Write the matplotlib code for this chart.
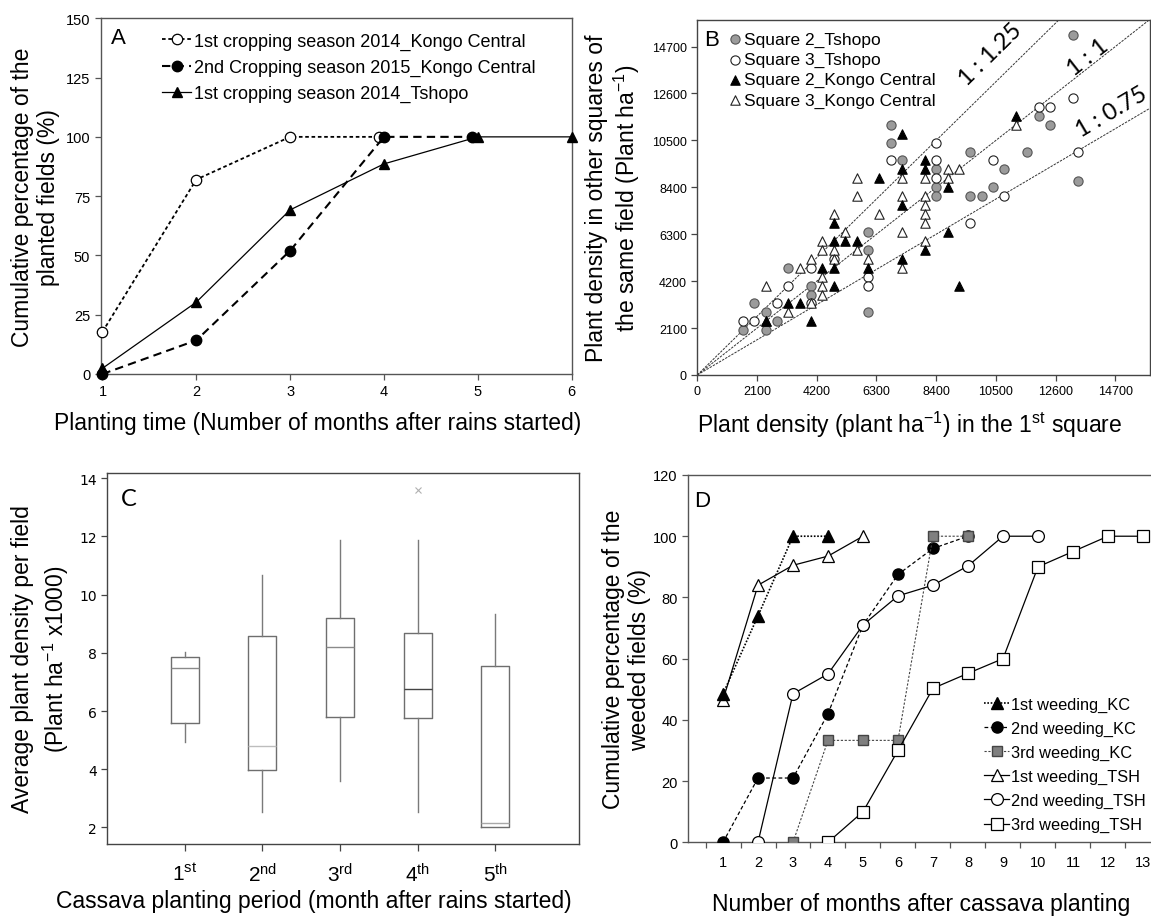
import numpy as np
import matplotlib
matplotlib.use('Agg')
import matplotlib.pyplot as plt

plt.rcParams['font.family'] = ['Liberation Sans', 'DejaVu Sans']
plt.rcParams['mathtext.fontset'] = 'custom'
plt.rcParams['mathtext.rm'] = 'Liberation Sans'
plt.rcParams['mathtext.it'] = 'Liberation Sans'
plt.rcParams['mathtext.bf'] = 'Liberation Sans:bold'
plt.rcParams['axes.unicode_minus'] = False

W, H = 1151, 920

# -----------------------
# Panel A: cumulative planting
# -----------------------
a_kc2014_x = [1, 2, 3, 3.95]
a_kc2014_y = [17.8, 82, 100, 100]
a_kc2015_x = [1, 2, 3, 4, 4.94]
a_kc2015_y = [0, 14.2, 52, 100, 100]
a_tsh_x = [1, 2, 3, 4, 5, 6]
a_tsh_y = [2.4, 30.3, 69.2, 88.6, 100, 100]

# -----------------------
# Panel B: plant density in squares (x = 1st square, y = other square)
# -----------------------
b_sq2_tsh_x = [13200, 6800, 6800, 7200, 8400, 8400, 8400, 9600, 9600, 10000, 10400, 10800,
               11600, 12000, 12400, 13400, 6000, 6000, 6000, 4000, 4000, 3200, 2000, 2400,
               2400, 1600, 2800]
b_sq2_tsh_y = [15200, 11200, 10400, 9600, 9200, 8400, 8000, 10000, 8000, 8000, 8400, 9200,
               10000, 11600, 11200, 8700, 6400, 5600, 2800, 4000, 3600, 4800, 3200, 2800,
               2000, 2000, 2400]
b_sq3_tsh_x = [1600, 2000, 2800, 3200, 4000, 4000, 4800, 6000, 6000, 6800, 8400, 8400,
               8400, 9600, 10400, 10800, 12000, 12400, 13200, 13400]
b_sq3_tsh_y = [2400, 2400, 3200, 4000, 4800, 3200, 5200, 4400, 4000, 9600, 10400, 9600,
               8800, 6800, 9600, 8000, 12000, 12000, 12400, 10000]
b_sq2_kc_x = [11200, 7200, 7200, 8000, 8000, 6400, 8800, 7200, 4800, 4800, 5200, 5600,
              8800, 4400, 4800, 4800, 6000, 7200, 8000, 9200, 3200, 3600, 4000, 2400]
b_sq2_kc_y = [11600, 10800, 9200, 9600, 9200, 8800, 8400, 7600, 6800, 6000, 6000, 6000,
              6400, 4800, 4800, 4000, 4800, 5200, 5600, 4000, 3200, 3200, 2400, 2400]
b_sq3_kc_x = [11200, 9200, 8800, 8800, 8000, 7200, 5600, 5600, 7200, 8000, 8000, 8000,
              8000, 8000, 7200, 6400, 7200, 6000, 5200, 5600, 4800, 4400, 4400, 4800,
              4800, 4000, 3600, 4400, 4400, 4400, 4000, 3200, 2400, 2400]
b_sq3_kc_y = [11200, 9200, 9200, 8800, 8800, 8800, 8800, 8000, 8000, 8000, 7600, 7200,
              6800, 6000, 6400, 7200, 4800, 5200, 6400, 5600, 7200, 6000, 5600, 5600,
              5200, 5200, 4800, 4400, 4000, 3600, 3200, 2800, 4000, 2400]
b_ticks = [0, 2100, 4200, 6300, 8400, 10500, 12600, 14700]
b_ratios = [1.25, 1.0, 0.75]
b_ratio_labels = ['1 : 1.25', '1 : 1', '1 : 0.75']

# -----------------------
# Panel C: box plots of plant density per planting period
# -----------------------
c_labels = ['1$^{st}$', '2$^{nd}$', '3$^{rd}$', '4$^{th}$', '5$^{th}$']
c_whislo = [4.95, 2.54, 3.60, 2.54, 2.00]
c_q1 = [5.58, 3.97, 5.80, 5.75, 2.03]
c_med = [7.47, 4.81, 8.19, 6.74, 2.14]
c_q3 = [7.87, 8.59, 9.20, 8.67, 7.54]
c_whishi = [8.02, 10.69, 11.88, 11.88, 9.34]
c_fliers = [[], [], [], [13.61], []]

# -----------------------
# Panel D: cumulative weeding
# -----------------------
d_w1_kc_x = [1, 2, 3, 4]
d_w1_kc_y = [48.5, 74, 100, 100]
d_w2_kc_x = [1, 2, 3, 4, 5, 6, 7, 8]
d_w2_kc_y = [0, 21, 21, 42, 71, 87.5, 96, 100]
d_w3_kc_x = [3, 4, 5, 6, 7, 8]
d_w3_kc_y = [0, 33.3, 33.3, 33.3, 100, 100]
d_w1_tsh_x = [1, 2, 3, 4, 5]
d_w1_tsh_y = [46.5, 84, 90.5, 93.5, 100]
d_w2_tsh_x = [2, 3, 4, 5, 6, 7, 8, 9, 10]
d_w2_tsh_y = [0, 48.5, 55, 71, 80.5, 84, 90.3, 100, 100]
d_w3_tsh_x = [4, 5, 6, 7, 8, 9, 10, 11, 12, 13]
d_w3_tsh_y = [0, 10, 30, 50.3, 55.2, 60, 90, 95, 100, 100]


def px_axes(fig, l, t, r, b):
    return fig.add_axes([l / W, 1 - b / H, (r - l) / W, (b - t) / H])


def style_box(ax, color='#555555'):
    for s in ax.spines.values():
        s.set_color(color)
        s.set_linewidth(1.0)
    ax.tick_params(direction='out', length=4, width=0.9, color=color)


fig = plt.figure(figsize=(W / 100, H / 100), dpi=100)

# ---------- A ----------
axA = px_axes(fig, 100.6, 19.3, 571.6, 375)
axA.plot(a_kc2014_x, a_kc2014_y, ls=(0, (2, 1.5)), lw=1.3, color='k', marker='o', ms=7.5,
         mfc='white', mec='k', mew=0.9, label='1st cropping season 2014_Kongo Central', clip_on=False, zorder=3)
axA.plot(a_kc2015_x, a_kc2015_y, ls=(0, (4, 2.5)), lw=1.5, color='k', marker='o', ms=7.5,
         mfc='k', mec='k', label='2nd Cropping season 2015_Kongo Central', clip_on=False, zorder=4)
axA.plot(a_tsh_x, a_tsh_y, ls='-', lw=0.9, color='k', marker='^', ms=7.5,
         mfc='k', mec='k', label='1st cropping season 2014_Tshopo', clip_on=False, zorder=3)
axA.set_xlim(0.98, 6.0)
axA.set_ylim(0, 150)
axA.set_xticks([1, 2, 3, 4, 5, 6])
axA.set_yticks([0, 25, 50, 75, 100, 125, 150])
style_box(axA)
axA.tick_params(labelsize=10.5)
axA.set_ylabel('Cumulative percentage of the\nplanted fields (%)', fontsize=16.5, linespacing=1.15)
axA.yaxis.set_label_coords(-0.086, 0.5)
axA.set_xlabel('Planting time (Number of months after rains started)', fontsize=16.5)
axA.xaxis.set_label_coords(0.46, -0.105)
axA.text(0.022, 0.945, 'A', transform=axA.transAxes, fontsize=16, va='center', ha='left')
axA.legend(loc='upper left', bbox_to_anchor=(0.1, 1.0), frameon=False, fontsize=13,
           handlelength=1.6, handletextpad=0.15, labelspacing=0.5, borderaxespad=0.4)

# ---------- B ----------
axB = px_axes(fig, 697.3, 20.7, 1149.5, 376)
lim = 15900
xx = np.array([0, lim])
for r in b_ratios:
    axB.plot(xx, xx * r, ls=(0, (2.5, 1.2)), lw=0.7, color='#333333', zorder=1)
axB.scatter(b_sq2_tsh_x, b_sq2_tsh_y, s=44, marker='o', facecolor='#9b9b9b', edgecolor='#555555',
            linewidth=0.8, label='Square 2_Tshopo', zorder=3)
axB.scatter(b_sq3_tsh_x, b_sq3_tsh_y, s=44, marker='o', facecolor='white', edgecolor='#222222',
            linewidth=0.8, label='Square 3_Tshopo', zorder=3)
axB.scatter(b_sq2_kc_x, b_sq2_kc_y, s=46, marker='^', facecolor='black', edgecolor='black',
            linewidth=0.8, label='Square 2_Kongo Central', zorder=4)
axB.scatter(b_sq3_kc_x, b_sq3_kc_y, s=46, marker='^', facecolor='white', edgecolor='#222222',
            linewidth=0.8, label='Square 3_Kongo Central', zorder=3)
axB.set_xlim(0, lim)
axB.set_ylim(0, lim)
axB.set_xticks(b_ticks)
axB.set_yticks(b_ticks)
style_box(axB, '#444444')
axB.tick_params(labelsize=9)
lab_pos = [(10300, 14350), (13750, 14250), (14550, 11800)]
for (lx, ly), r, t in zip(lab_pos, b_ratios, b_ratio_labels):
    axB.text(lx, ly, t, rotation=np.degrees(np.arctan(r)), transform_rotates_text=True,
             rotation_mode='anchor', ha='center', va='center', fontsize=17, family='Lato')
axB.set_ylabel('Plant density in other squares of\nthe same field (Plant ha$^{-1}$)', fontsize=16.5,
               linespacing=1.15)
axB.yaxis.set_label_coords(-0.122, 0.5)
axB.set_xlabel('Plant density (plant ha$^{-1}$) in the 1$^{st}$ square', fontsize=16.5)
axB.xaxis.set_label_coords(0.47, -0.095)
axB.text(0.016, 0.945, 'B', transform=axB.transAxes, fontsize=16, va='center', ha='left')
axB.legend(loc='upper left', bbox_to_anchor=(0.045, 1.0), frameon=False, fontsize=12.5,
           handlelength=0.6, handletextpad=0.2, labelspacing=0.28, borderaxespad=0.3,
           scatterpoints=1)

# ---------- C ----------
axC = px_axes(fig, 107.3, 474, 579, 845)
stats = []
for i in range(len(c_labels)):
    stats.append(dict(whislo=c_whislo[i], q1=c_q1[i], med=c_med[i], q3=c_q3[i],
                      whishi=c_whishi[i], fliers=c_fliers[i]))
med_colors = ['#8a8a8a', '#bdbdbd', '#8a8a8a', '#444444', '#a8a8a8']
bp = axC.bxp(stats, positions=[1, 2, 3, 4, 5], widths=0.36, showcaps=False, patch_artist=False,
             boxprops=dict(color='#6e6e6e', lw=1.0),
             whiskerprops=dict(color='#7a7a7a', lw=1.0),
             medianprops=dict(color='#888888', lw=1.0),
             flierprops=dict(marker='x', markeredgecolor='#b0b0b0', markersize=4.5, mew=0.8))
for m, c in zip(bp['medians'], med_colors):
    m.set_color(c)
axC.set_xlim(0, 6.08)
axC.set_ylim(1.43, 14.18)
axC.set_yticks([2, 4, 6, 8, 10, 12, 14])
axC.set_xticks([1, 2, 3, 4, 5])
axC.set_xticklabels(c_labels, fontsize=15)
for lbl in axC.get_yticklabels():
    lbl.set_family('DejaVu Sans')
    lbl.set_fontsize(10)
style_box(axC, '#444444')
axC.tick_params(axis='x', length=5, pad=8)
axC.set_ylabel('Average plant density per field\n(Plant ha$^{-1}$ x1000)', fontsize=16.5, linespacing=1.3)
axC.yaxis.set_label_coords(-0.077, 0.5)
axC.set_xlabel('Cassava planting period (month after rains started)', fontsize=16.5)
axC.xaxis.set_label_coords(0.438, -0.12)
axC.text(0.028, 0.93, 'C', transform=axC.transAxes, fontsize=17, va='center', ha='left',
         family='Lato')

# ---------- D ----------
axD = px_axes(fig, 688, 476, 1178, 843.3)
axD.plot(d_w1_kc_x, d_w1_kc_y, ls=(0, (1, 1)), lw=1.2, color='k', marker='^', ms=8,
         mfc='k', mec='k', label='1st weeding_KC', zorder=4)
axD.plot(d_w2_kc_x, d_w2_kc_y, ls=(0, (3, 2)), lw=0.9, color='k', marker='o', ms=8,
         mfc='k', mec='k', label='2nd weeding_KC', zorder=3)
axD.plot(d_w3_kc_x, d_w3_kc_y, ls=(0, (2, 1.5)), lw=0.8, color='#444444', marker='s', ms=7.5,
         mfc='#7f7f7f', mec='#444444', label='3rd weeding_KC', zorder=3)
axD.plot(d_w1_tsh_x, d_w1_tsh_y, ls='-', lw=0.9, color='k', marker='^', ms=8.5,
         mfc='white', mec='k', mew=0.9, label='1st weeding_TSH', zorder=3)
axD.plot(d_w2_tsh_x, d_w2_tsh_y, ls='-', lw=0.9, color='k', marker='o', ms=8.5,
         mfc='white', mec='k', mew=0.9, label='2nd weeding_TSH', zorder=4)
axD.plot(d_w3_tsh_x, d_w3_tsh_y, ls='-', lw=0.9, color='k', marker='s', ms=8,
         mfc='white', mec='k', mew=0.9, label='3rd weeding_TSH', zorder=4)
axD.set_xlim(0, 14)
axD.set_ylim(0, 120)
axD.set_yticks([0, 20, 40, 60, 80, 100, 120])
axD.set_xticks(np.arange(0.5, 14, 1))
axD.set_xticklabels([])
axD.set_xticks(np.arange(1, 14), minor=True)
axD.set_xticklabels([str(i) for i in range(1, 14)], minor=True)
style_box(axD)
axD.tick_params(axis='x', which='minor', length=0, pad=9, labelsize=10.5)
axD.tick_params(axis='y', labelsize=10.5)
axD.set_ylabel('Cumulative percentage of the\nweeded fields (%)', fontsize=16.5, linespacing=1.15)
axD.yaxis.set_label_coords(-0.076, 0.5)
axD.set_xlabel('Number of months after cassava planting', fontsize=16.5)
axD.xaxis.set_label_coords(0.476, -0.135)
axD.text(0.012, 0.93, 'D', transform=axD.transAxes, fontsize=16, va='center', ha='left')
axD.legend(loc='lower left', bbox_to_anchor=(0.585, 0.0), frameon=False, fontsize=11.8,
           handlelength=1.5, handletextpad=0.12, labelspacing=0.55, borderaxespad=0.2)

fig.savefig('out.png', dpi=100)
